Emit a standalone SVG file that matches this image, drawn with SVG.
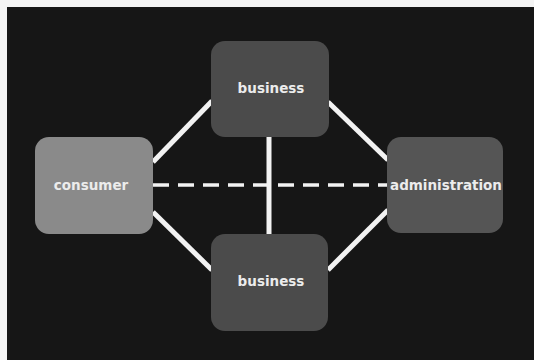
<svg xmlns="http://www.w3.org/2000/svg" width="534" height="360" viewBox="0 0 534 360">
<style>
.lbl{font-family:"DejaVu Sans","Liberation Sans",sans-serif;font-weight:bold;font-size:13.5px;fill:#ececec;text-anchor:middle}
.ln{stroke:#f2f2f2;stroke-width:5;fill:none}
.dash{stroke:#f2f2f2;stroke-width:3.5;stroke-dasharray:16 9;fill:none}
</style>
<rect x="0" y="0" width="534" height="360" fill="#f4f4f4"/>
<rect x="7" y="7" width="527" height="353" fill="#161616"/>
<g id="connectors">
<line class="ln" x1="153" y1="162" x2="212" y2="101"/>
<line class="ln" x1="328" y1="102" x2="388" y2="160"/>
<line class="ln" x1="153" y1="212" x2="212" y2="270"/>
<line class="ln" x1="328" y1="270" x2="388" y2="210"/>
<line class="ln" x1="269" y1="136" x2="269" y2="235"/>
<line class="dash" x1="153" y1="185" x2="392" y2="185"/>
</g>
<g id="business-top">
<rect x="211" y="41" width="118" height="96" rx="14" fill="#4b4b4b"/>
<text class="lbl" x="271" y="93">business</text>
</g>
<g id="consumer">
<rect x="35" y="137" width="118" height="97" rx="14" fill="#8a8a8a"/>
<text class="lbl" x="91" y="190">consumer</text>
</g>
<g id="administration">
<rect x="387" y="137" width="116" height="96" rx="14" fill="#555555"/>
<text class="lbl" x="446" y="190">administration</text>
</g>
<g id="business-bottom">
<rect x="211" y="234" width="117" height="97" rx="14" fill="#4b4b4b"/>
<text class="lbl" x="271" y="286">business</text>
</g>
</svg>
